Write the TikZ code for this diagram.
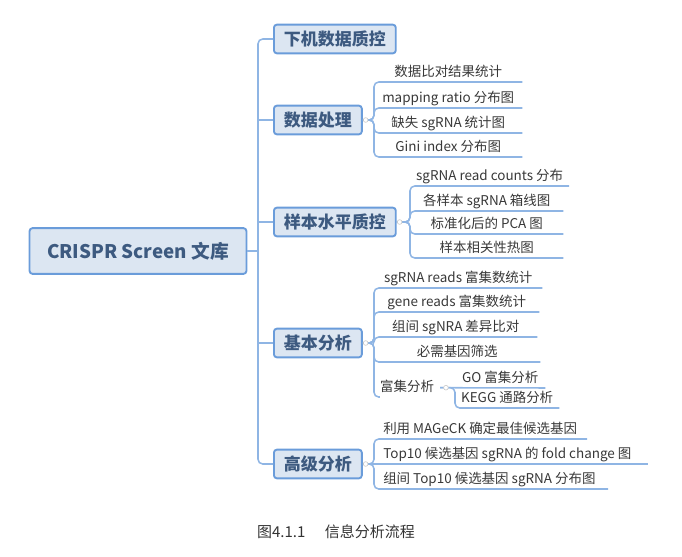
\documentclass[tikz,border=0pt]{standalone}
\usepackage{fontspec}
\setmainfont{Noto Sans CJK SC}
\usepackage{tikz}
\usetikzlibrary{calc}

\definecolor{linkblue}{HTML}{8FB5E4}
\definecolor{boxfill}{HTML}{DCE6F2}
\definecolor{boxedge}{HTML}{6A9CDA}
\definecolor{boxtext}{HTML}{3D5A80}
\definecolor{leaftext}{HTML}{383838}
\definecolor{captext}{HTML}{333333}

\tikzset{
	conn/.style={draw=linkblue, line width=1.3pt, rounded corners=4pt},
	topbox/.style={draw=boxedge, fill=boxfill, line width=1.6pt, rounded corners=2.5pt, text=boxtext,
		font=\bfseries\fontsize{14.5}{16}\selectfont, inner xsep=8.5pt, minimum height=24.5pt},
	rootbox/.style={topbox, font=\bfseries\fontsize{16}{18}\selectfont, inner xsep=15pt, minimum height=39pt},
	leaf/.style={anchor=south west, text=leaftext, font=\fontsize{11.5}{13}\selectfont,
		inner xsep=5pt, inner ysep=2pt, text height=9pt, text depth=2.5pt},
	longleaf/.style={leaf, inner xsep=7.7pt},
	foldmark/.style={circle, draw=black!22, fill=white, line width=0.5pt, inner sep=0pt, minimum size=4pt}
}

\begin{document}
\begin{tikzpicture}[x=0.03cm, y=-0.03cm]
		%%%%% START %%%%%
		\useasboundingbox (0,0) rectangle (682,556);
		
		\node[rootbox] (root) at (138,251) {CRISPR Screen 文库};
		\coordinate (trunk) at (258,251);
		
		\node[topbox, anchor=west] (qc) at (273,39) {下机数据质控};
		\node[topbox, anchor=west] (proc) at (273,120) {数据处理};
		\node[topbox, anchor=west] (sqc) at (273,222) {样本水平质控};
		\node[topbox, anchor=west] (basic) at (273,343) {基本分析};
		\node[topbox, anchor=west] (adv) at (273,464) {高级分析};
		
		\draw[conn] (root.east) -- (trunk);
		\draw[conn] (qc.west) -| (trunk) |- (adv.west);
		\draw[conn] (proc.west) -- (proc.west -| trunk);
		\draw[conn] (sqc.west) -- (sqc.west -| trunk);
		\draw[conn] (basic.west) -- (basic.west -| trunk);
		
		% 数据处理
		\node[leaf, minimum width=4.44cm] (proc1) at (374,82) {数据比对结果统计};
		\node[leaf, minimum width=4.44cm] (proc2) at (374,108) {mapping ratio 分布图};
		\node[leaf, minimum width=4.44cm] (proc3) at (374,133) {缺失 sgRNA 统计图};
		\node[leaf, minimum width=4.44cm] (proc4) at (374,157) {Gini index 分布图};
		\draw[conn] (proc.east) -- (proc.east -| proc1.south west) -- (proc1.south west) -- (proc1.south east);
		\draw[conn] (proc.east) -- (proc.east -| proc2.south west) -- (proc2.south west) -- (proc2.south east);
		\draw[conn] (proc.east) -- (proc.east -| proc3.south west) -- (proc3.south west) -- (proc3.south east);
		\draw[conn] (proc.east) -- (proc.east -| proc4.south west) -- (proc4.south west) -- (proc4.south east);
		
		% 样本水平质控
		\node[leaf, minimum width=4.59cm] (sqc1) at (410,186) {sgRNA read counts 分布};
		\node[leaf, minimum width=4.59cm] (sqc2) at (410,211) {各样本 sgRNA 箱线图};
		\node[leaf, minimum width=4.59cm] (sqc3) at (410,234) {标准化后的 PCA 图};
		\node[leaf, minimum width=4.59cm] (sqc4) at (410,258) {样本相关性热图};
		\draw[conn] (sqc.east) -- (sqc.east -| sqc1.south west) -- (sqc1.south west) -- (sqc1.south east);
		\draw[conn] (sqc.east) -- (sqc.east -| sqc2.south west) -- (sqc2.south west) -- (sqc2.south east);
		\draw[conn] (sqc.east) -- (sqc.east -| sqc3.south west) -- (sqc3.south west) -- (sqc3.south east);
		\draw[conn] (sqc.east) -- (sqc.east -| sqc4.south west) -- (sqc4.south west) -- (sqc4.south east);
		
		% 基本分析
		\node[leaf, minimum width=5.04cm] (basic1) at (374,288) {sgRNA reads 富集数统计};
		\node[leaf, minimum width=4.95cm] (basic2) at (374,312) {gene reads 富集数统计};
		\node[leaf, minimum width=4.89cm] (basic3) at (374,337) {组间 sgNRA 差异比对};
		\node[leaf, minimum width=4.98cm] (basic4) at (374,362) {必需基因筛选};
		\node[leaf] (enrich) at (374,397) {富集分析};
		\draw[conn] (basic.east) -- (basic.east -| basic1.south west) -- (basic1.south west) -- (basic1.south east);
		\draw[conn] (basic.east) -- (basic.east -| basic2.south west) -- (basic2.south west) -- (basic2.south east);
		\draw[conn] (basic.east) -- (basic.east -| basic3.south west) -- (basic3.south west) -- (basic3.south east);
		\draw[conn] (basic.east) -- (basic.east -| basic4.south west) -- (basic4.south west) -- (basic4.south east);
		\draw[conn] (basic.east) -- (basic.east -| enrich.south west) -- (enrich.south west) -- ([xshift=5pt]enrich.south west);
		
		\node[leaf, minimum width=2.7cm] (go) at (455,388) {GO 富集分析};
		\node[leaf, minimum width=2.91cm] (kegg) at (455,408) {KEGG 通路分析};
		\draw[conn] (enrich.east) -- (go.south east);
		\draw[conn] (enrich.east) -- (enrich.east -| kegg.south west) -- (kegg.south west) -- (kegg.south east);
		
		% 高级分析
		\node[longleaf] (adv1) at (374,439) {利用 MAGeCK 确定最佳候选基因};
		\node[longleaf] (adv2) at (374,464) {Top10 候选基因 sgRNA 的 fold change 图};
		\node[longleaf] (adv3) at (374,489) {组间 Top10 候选基因 sgRNA 分布图};
		\coordinate (adv1end) at (587,439);
		\coordinate (adv2end) at (648,464);
		\coordinate (adv3end) at (608,489);
		\draw[conn] (adv.east) -- (adv.east -| adv1.south west) -- (adv1.south west) -- (adv1end);
		\draw[conn] (adv.east) -- (adv2.south west) -- (adv2end);
		\draw[conn] (adv.east) -- (adv.east -| adv3.south west) -- (adv3.south west) -- (adv3end);
		
		\node[foldmark] (fold2) at ([xshift=2.5pt]proc.east) {};
		\node[foldmark] (fold3) at ([xshift=2.5pt]sqc.east) {};
		\node[foldmark] (fold4) at ([xshift=2.5pt]basic.east) {};
		\node[foldmark] (fold5) at ([xshift=2.5pt]adv.east) {};
		\node[foldmark] (fold6) at ([xshift=5pt]enrich.east) {};
		
		\node[text=captext, font=\fontsize{12.8}{15}\selectfont] (caption) at (336,532) {图4.1.1\hspace{1.3em}信息分析流程};
		%%%%% END %%%%%
\end{tikzpicture}
\end{document}
